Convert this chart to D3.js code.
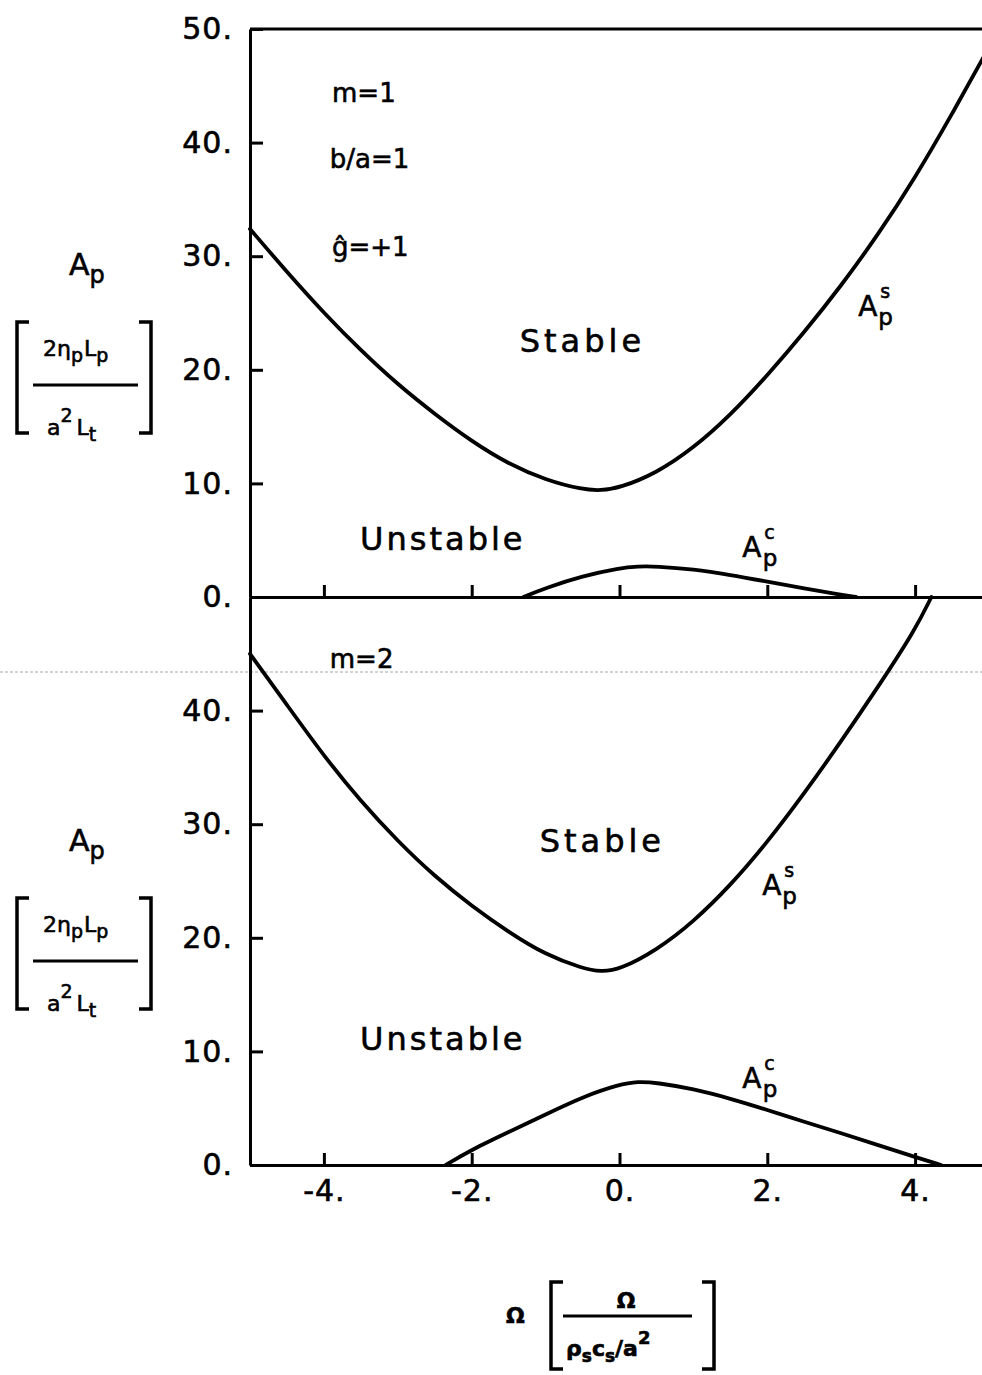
<!DOCTYPE html>
<html>
<head>
<meta charset="utf-8">
<script src="https://cdn.jsdelivr.net/npm/d3@7"></script>
<style>
  html, body { margin: 0; padding: 0; background: #fff; }
  svg { display: block; }
  text { font-family: "DejaVu Sans", sans-serif; fill: #000; stroke: #000; stroke-width: 0.6px; }
</style>
</head>
<body>
<svg id="chart" width="982" height="1375"></svg>
<script>
// Marginal stability curves A_p versus normalized frequency Omega

const xTicks = [-4, -2, 0, 2, 4];
const yTicksTop = [0, 10, 20, 30, 40, 50];
const yTicksBottom = [0, 10, 20, 30, 40];

// m = 1 : upper boundary A_p^s
const omegaStable1 = [-5, -4.5, -4, -3.5, -3, -2.5, -2, -1.5, -1, -0.5, -0.25, 0, 0.5, 1, 1.5, 2, 2.5, 3, 3.5, 4, 4.5, 5];
const apStable1    = [32.4, 28.6, 25.0, 21.7, 18.7, 16.1, 13.7, 11.7, 10.3, 9.45, 9.37, 9.6, 10.9, 13.1, 16.0, 19.5, 23.3, 27.4, 31.9, 36.9, 42.5, 48.4];

// m = 1 : lower boundary A_p^c
const omegaCrit1 = [-1.3, -1, -0.5, 0, 0.25, 0.5, 1, 1.5, 2, 2.5, 3, 3.2];
const apCrit1    = [0, 0.8, 1.85, 2.55, 2.7, 2.7, 2.45, 1.95, 1.35, 0.75, 0.2, 0];

// m = 2 : upper boundary A_p^s
const omegaStable2 = [-5, -4.5, -4, -3.5, -3, -2.5, -2, -1.5, -1, -0.5, -0.25, 0, 0.5, 1, 1.5, 2, 2.5, 3, 3.5, 4, 4.22];
const apStable2    = [45.0, 40.5, 36.0, 32.0, 28.5, 25.4, 22.8, 20.5, 18.5, 17.3, 17.0, 17.2, 18.9, 21.4, 24.6, 28.4, 32.7, 37.3, 42.1, 47.1, 50];

// m = 2 : lower boundary A_p^c
const omegaCrit2 = [-2.35, -2, -1.5, -1, -0.5, 0, 0.25, 0.5, 1, 1.5, 2, 2.5, 3, 3.5, 4, 4.35];
const apCrit2    = [0, 1.35, 2.9, 4.45, 6.0, 7.1, 7.35, 7.25, 6.7, 5.85, 4.85, 3.8, 2.8, 1.75, 0.7, 0];

const svg = d3.select("#chart");

const x = d3.scaleLinear().domain([-5, 5]).range([250, 989]);
const yTop = d3.scaleLinear().domain([0, 50]).range([597, 29]);
const yBot = d3.scaleLinear().domain([0, 50]).range([1165, 597]);

const AXIS_W = 3;

// faint scan streak across the sheet
svg.append("line")
  .attr("x1", 0).attr("x2", 982)
  .attr("y1", 672).attr("y2", 672)
  .attr("stroke", "#8a8a8a").attr("stroke-width", 1)
  .attr("stroke-dasharray", "3 2").attr("opacity", 0.75);

function styleAxis(g, fontSize) {
  g.attr("font-family", null).attr("font-size", null);
  g.selectAll("path.domain").attr("stroke", "#000").attr("stroke-width", AXIS_W);
  g.selectAll(".tick line").attr("stroke", "#000").attr("stroke-width", AXIS_W);
  g.selectAll(".tick text")
    .style("font-family", '"DejaVu Sans", sans-serif')
    .style("font-size", fontSize + "px")
    .style("letter-spacing", "1px")
    .attr("fill", "#000");
}

const fmt = d => String(d) + ".";

// ---- left axes ----
svg.append("g")
  .attr("transform", `translate(${x(-5)},0)`)
  .call(d3.axisLeft(yTop).tickValues(yTicksTop).tickSizeInner(-13).tickSizeOuter(0).tickPadding(17).tickFormat(fmt))
  .call(g => styleAxis(g, 30));

svg.append("g")
  .attr("transform", `translate(${x(-5)},0)`)
  .call(d3.axisLeft(yBot).tickValues(yTicksBottom).tickSizeInner(-13).tickSizeOuter(0).tickPadding(17).tickFormat(fmt))
  .call(g => styleAxis(g, 30));

// ---- horizontal axes ----
svg.append("g")
  .attr("transform", `translate(0,${yTop(0)})`)
  .call(d3.axisBottom(x).tickValues(xTicks).tickSizeInner(-12).tickSizeOuter(0).tickFormat(""))
  .call(g => styleAxis(g, 30));

svg.append("g")
  .attr("transform", `translate(0,${yBot(0)})`)
  .call(d3.axisBottom(x).tickValues(xTicks).tickSizeInner(-12).tickSizeOuter(0).tickPadding(15).tickFormat(fmt))
  .call(g => styleAxis(g, 30));

// top frame line
svg.append("line")
  .attr("x1", x(-5)).attr("x2", x(5))
  .attr("y1", yTop(50)).attr("y2", yTop(50))
  .attr("stroke", "#000").attr("stroke-width", AXIS_W);

// ---- curves ----
function drawCurve(xs, ys, yScale) {
  const pts = xs.map((v, i) => [v, ys[i]]);
  const line = d3.line()
    .x(d => x(d[0]))
    .y(d => yScale(d[1]))
    .curve(d3.curveBasis);
  svg.append("path")
    .datum(pts)
    .attr("d", line)
    .attr("fill", "none")
    .attr("stroke", "#000")
    .attr("stroke-width", 3.8)
    .attr("stroke-linejoin", "round")
    .attr("stroke-linecap", "round");
}

drawCurve(omegaStable1, apStable1, yTop);
drawCurve(omegaCrit1, apCrit1, yTop);
drawCurve(omegaStable2, apStable2, yBot);
drawCurve(omegaCrit2, apCrit2, yBot);

// ---- text annotations ----
function label(txt, xv, yv, yScale, size, spacing) {
  svg.append("text")
    .attr("x", x(xv)).attr("y", yScale(yv))
    .style("font-size", size + "px")
    .style("letter-spacing", (spacing || 0) + "px")
    .text(txt);
}

// A_p with stacked superscript / subscript, kept in one text element
function apLabel(xv, yv, yScale, sup) {
  const t = svg.append("text")
    .attr("x", x(xv)).attr("y", yScale(yv))
    .style("font-size", "28px");
  t.append("tspan").text("A");
  t.append("tspan").attr("dx", 3).attr("dy", -18).style("font-size", "19px").text(sup);
  t.append("tspan").attr("dx", -12).attr("dy", 27).style("font-size", "23px").text("p");
}

// m = 1 panel
label("m=1", -3.89, 43.6, yTop, 26, 0);
label("b/a=1", -3.92, 37.8, yTop, 26, 0);
label("ĝ=+1", -3.89, 30.0, yTop, 26, 0);
label("Stable", -1.35, 21.6, yTop, 32, 4);
label("Unstable", -3.51, 4.1, yTop, 32, 3);
apLabel(3.23, 24.7, yTop, "s");
apLabel(1.66, 3.5, yTop, "c");

// m = 2 panel
label("m=2", -3.92, 43.75, yBot, 26, 0);
label("Stable", -1.08, 27.55, yBot, 32, 4);
label("Unstable", -3.51, 10.1, yBot, 32, 3);
apLabel(1.93, 23.8, yBot, "s");
apLabel(1.66, 6.8, yBot, "c");

// ---- vertical axis title (repeated for each panel) ----
function bracket(x0, y0, y1, dir) {
  const s = 12 * dir;
  svg.append("path")
    .attr("d", `M${x0 + s},${y0}L${x0},${y0}L${x0},${y1}L${x0 + s},${y1}`)
    .attr("fill", "none").attr("stroke", "#000").attr("stroke-width", 3.5);
}

function yTitle(dy) {
  const t = svg.append("text").attr("x", 69).attr("y", 275 + dy).style("font-size", "30px");
  t.append("tspan").text("A");
  t.append("tspan").attr("dy", 8).style("font-size", "24px").text("p");

  bracket(17, 322 + dy, 433 + dy, 1);
  bracket(151, 322 + dy, 433 + dy, -1);

  const num = svg.append("text").attr("x", 43).attr("y", 356 + dy).style("font-size", "22px");
  num.append("tspan").text("2η");
  num.append("tspan").attr("dy", 6).style("font-size", "19px").text("p");
  num.append("tspan").attr("dy", -6).attr("dx", 1).text("L");
  num.append("tspan").attr("dy", 6).style("font-size", "19px").text("p");

  svg.append("line")
    .attr("x1", 33).attr("x2", 138)
    .attr("y1", 385 + dy).attr("y2", 385 + dy)
    .attr("stroke", "#000").attr("stroke-width", 3);

  const den = svg.append("text").attr("x", 47).attr("y", 435 + dy).style("font-size", "22px");
  den.append("tspan").text("a");
  den.append("tspan").attr("dy", -13).style("font-size", "19px").text("2");
  den.append("tspan").attr("dy", 13).attr("dx", 4).text("L");
  den.append("tspan").attr("dy", 6).style("font-size", "19px").text("t");
}
yTitle(0);
yTitle(576);

// ---- horizontal axis title ----
svg.append("text").attr("x", 506).attr("y", 1323)
  .style("font-size", "22px").style("font-weight", "bold").text("Ω");
bracket(551, 1282, 1369, 1);
bracket(714, 1282, 1369, -1);
svg.append("text").attr("x", 626).attr("y", 1308).attr("text-anchor", "middle")
  .style("font-size", "22px").style("font-weight", "bold").text("Ω");
svg.append("line")
  .attr("x1", 563).attr("x2", 692).attr("y1", 1316).attr("y2", 1316)
  .attr("stroke", "#000").attr("stroke-width", 3);
const xd = svg.append("text").attr("x", 566).attr("y", 1356).style("font-size", "22px").style("font-weight", "bold");
xd.append("tspan").text("ρ");
xd.append("tspan").attr("dy", 6).style("font-size", "17px").text("s");
xd.append("tspan").attr("dy", -6).text("c");
xd.append("tspan").attr("dy", 6).style("font-size", "17px").text("s");
xd.append("tspan").attr("dy", -6).text("/a");
xd.append("tspan").attr("dy", -12).style("font-size", "18px").text("2");
</script>
</body>
</html>
